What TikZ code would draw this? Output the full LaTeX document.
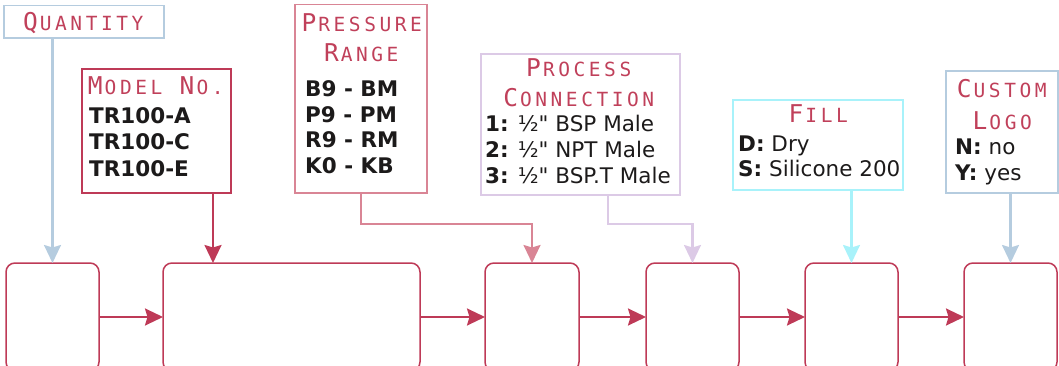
\documentclass[tikz,border=0pt]{standalone}
\usepackage{fontspec}
\setmainfont{DejaVu Sans}[Ligatures=TeXOff]
\newfontfamily\titlefont{DejaVu Sans Mono}
\usetikzlibrary{arrows.meta}
\definecolor{ttlred}{HTML}{C0405A}
\definecolor{crim}{HTML}{BE3A57}
\definecolor{prspink}{HTML}{D98595}
\definecolor{lav}{HTML}{DCCAE6}
\definecolor{cyanl}{HTML}{A8F2FA}
\definecolor{qblue}{HTML}{B5CCDF}
\definecolor{inkc}{HTML}{1C1A1A}
\newlength\lsw \setlength\lsw{15.3pt}
\def\spacedltr#1{\splx#1\relax}
\def\splx#1{\ifx\relax#1\else\makebox[\lsw][c]{#1}\expandafter\splx\fi}
\newcommand\bg[1]{{\fontsize{24.5}{24.5}\selectfont\spacedltr{#1}}}
\newcommand\sm[1]{{\fontsize{19.5}{19.5}\selectfont\spacedltr{#1}}}
\begin{document}
\begin{tikzpicture}[x=1pt,y=-1pt,
  frame/.style={draw, line width=1.5pt, inner sep=0pt, outer sep=0pt},
  stepbox/.style={draw=crim, line width=1.5pt, rounded corners=9pt, minimum height=108pt, inner sep=0pt, outer sep=0pt},
  ttlnode/.style={inner sep=0pt, anchor=base, text=ttlred, font=\titlefont},
  bodyline/.style={inner sep=0pt, anchor=base west, text=inkc, font=\fontsize{21.5}{25}\selectfont},
  conn/.style={line width=2.2pt, -{Stealth[length=18pt,width=17pt,inset=2.5pt]}}]
\useasboundingbox (0,0) rectangle (1059,366);
% bottom boxes
\node[stepbox, minimum width=93pt] (b1) at (52.5,317) {};
\node[stepbox, minimum width=257pt] (b2) at (291.5,317) {};
\node[stepbox, minimum width=94pt] (b3) at (532,317) {};
\node[stepbox, minimum width=93pt] (b4) at (692.5,317) {};
\node[stepbox, minimum width=93pt] (b5) at (851.5,317) {};
\node[stepbox, minimum width=93pt] (b6) at (1010.5,317) {};
\foreach \a/\b in {b1/b2,b2/b3,b3/b4,b4/b5,b5/b6}
  \draw[conn, crim] (\a.east) -- (\b.west);
% label frames
\node[frame, draw=qblue, minimum width=160pt, minimum height=32.5pt] (qty) at (84,21.75) {};
\node[frame, draw=crim, minimum width=149pt, minimum height=124pt] (mdl) at (156.5,131) {};
\node[frame, draw=prspink, minimum width=132pt, minimum height=188.5pt] (prs) at (361,98.75) {};
\node[frame, draw=lav, minimum width=199pt, minimum height=141pt] (pc) at (580.5,124.5) {};
\node[frame, draw=cyanl, minimum width=170pt, minimum height=90pt] (fl) at (818,145) {};
\node[frame, draw=qblue, minimum width=112pt, minimum height=122pt] (cl) at (1002,132) {};
% titles
\node[ttlnode] (tq) at (84,31) {\bg{Q}\sm{UANTITY}};
\node[ttlnode] (tm) at (156.5,95) {\bg{M}\sm{ODEL~}\bg{N}\sm{O.}};
\node[ttlnode] (tp1) at (362.5,32) {\bg{P}\sm{RESSURE}};
\node[ttlnode] (tp2) at (362,62) {\bg{R}\sm{ANGE}};
\node[ttlnode] (tc1) at (579.5,77) {\bg{P}\sm{ROCESS}};
\node[ttlnode] (tc2) at (579.5,107) {\bg{C}\sm{ONNECTION}};
\node[ttlnode] (tf) at (819,123) {\bg{F}\sm{ILL}};
\node[ttlnode] (tl1) at (1002.5,98) {\bg{C}\sm{USTOM}};
\node[ttlnode] (tl2) at (1003,130) {\bg{L}\sm{OGO}};
% body text
\node[bodyline] (m1) at (89,124) {\textbf{TR100-A}};
\node[bodyline] (m2) at (89,150) {\textbf{TR100-C}};
\node[bodyline] (m3) at (89,176) {\textbf{TR100-E}};
\node[bodyline] (p1) at (305,97) {\textbf{B9 - BM}};
\node[bodyline] (p2) at (305,122.5) {\textbf{P9 - PM}};
\node[bodyline] (p3) at (305,148) {\textbf{R9 - RM}};
\node[bodyline] (p4) at (305,174) {\textbf{K0 - KB}};
\node[bodyline] (c1) at (485,132) {\textbf{1:} ½" BSP Male};
\node[bodyline] (c2) at (485,158) {\textbf{2:} ½" NPT Male};
\node[bodyline] (c3) at (485,183) {\textbf{3:} ½" BSP.T Male};
\node[bodyline] (f1) at (738,152) {\textbf{D:} Dry};
\node[bodyline] (f2) at (738,177) {\textbf{S:} Silicone 200};
\node[bodyline] (l1) at (955,155) {\textbf{N:} no};
\node[bodyline] (l2) at (955,180) {\textbf{Y:} yes};
% connectors
\draw[conn, qblue] (qty.south -| b1.north) -- (b1.north);
\path ([xshift=56.5pt]mdl.south) coordinate (ma);
\draw[conn, crim] (ma) -- (ma |- b2.north);
\draw[conn, prspink] (prs.south) -- ++(0,31) -| (b3.north);
\path ([xshift=27.5pt]pc.south) coordinate (pa);
\draw[conn, lav] (pa) -- ++(0,29) -| (b4.north);
\draw[conn, cyanl] (fl.south -| b5.north) -- (b5.north);
\draw[conn, qblue] (cl.south -| b6.north) -- (b6.north);
\end{tikzpicture}
\end{document}
